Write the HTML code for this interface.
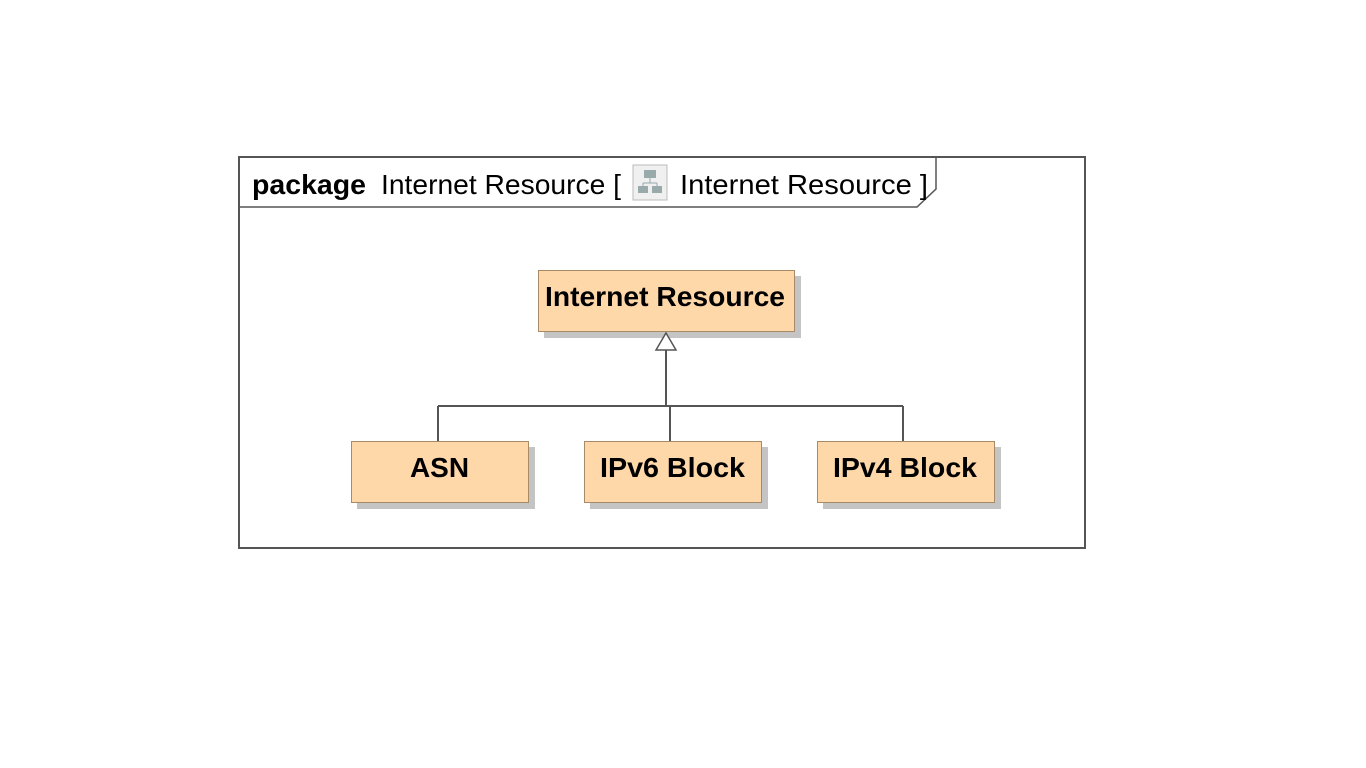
<!DOCTYPE html>
<html><head><style>
body{margin:0;background:#fff;width:1366px;height:768px;overflow:hidden;font-family:"Liberation Sans",Arial,sans-serif}
.b{position:absolute;background:#ffd8aa;border:1px solid #a88a66;box-shadow:6px 6px 0 #c4c4c4;box-sizing:border-box}
</style></head><body>
<div class="b" style="left:538px;top:270px;width:257px;height:62px"></div>
<div class="b" style="left:351px;top:441px;width:178px;height:62px"></div>
<div class="b" style="left:584px;top:441px;width:178px;height:62px"></div>
<div class="b" style="left:817px;top:441px;width:178px;height:62px"></div>
<svg width="1366" height="768" style="position:absolute;left:0;top:0">
<path d="M239 157 H1085 V548 H239 Z" fill="none" stroke="#555" stroke-width="2"/>
<path d="M239 207 H917 L936 189 V157" fill="none" stroke="#555" stroke-width="1.5"/>
<g stroke="#555" stroke-width="2" fill="none">
<path d="M666 350 V406 M438 406 H903 M438 406 V441 M670 406 V441 M903 406 V441"/>
</g>
<path d="M666 333 L656 350 L676 350 Z" fill="#fff" stroke="#555" stroke-width="1.5"/>
<rect x="633" y="165" width="34" height="35" fill="#f0f0f0" stroke="#bbb"/>
<rect x="644" y="170" width="12" height="8" fill="#9aa"/>
<rect x="638" y="186" width="10" height="7" fill="#9aa"/>
<rect x="652" y="186" width="10" height="7" fill="#9aa"/>
<path d="M650 178 V183 M643 183 H657 M643 183 V186 M657 183 V186" stroke="#9aa"/>
<g font-family="Liberation Sans,Arial,sans-serif" font-size="28">
<text x="252" y="194" font-weight="bold" textLength="114" lengthAdjust="spacingAndGlyphs">package</text>
<text x="381" y="194" textLength="240" lengthAdjust="spacingAndGlyphs">Internet Resource [</text>
<text x="680" y="194" textLength="248" lengthAdjust="spacingAndGlyphs">Internet Resource  ]</text>
<g font-weight="bold">
<text x="545" y="306" textLength="240" lengthAdjust="spacingAndGlyphs">Internet Resource</text>
<text x="410" y="477" textLength="59" lengthAdjust="spacingAndGlyphs">ASN</text>
<text x="600" y="477" textLength="145" lengthAdjust="spacingAndGlyphs">IPv6 Block</text>
<text x="833" y="477" textLength="144" lengthAdjust="spacingAndGlyphs">IPv4 Block</text>
</g></g>
</svg>
</body></html>
